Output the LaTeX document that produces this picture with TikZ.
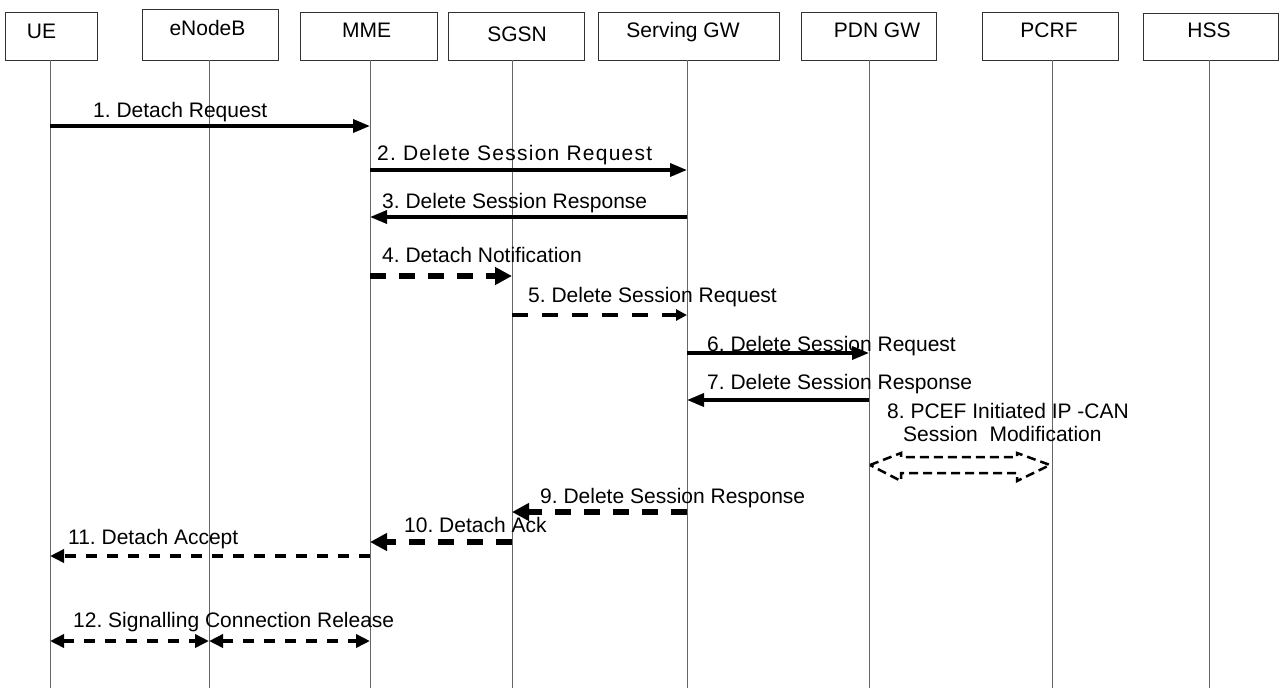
\documentclass[tikz,border=0pt]{standalone}
\usepackage{fontspec}
\setmainfont{Liberation Sans}
\usetikzlibrary{arrows.meta}
\begin{document}
\frenchspacing
\begin{tikzpicture}[x=1pt,y=-1pt,
  box/.style={draw=black!80,line width=1pt,minimum height=48pt,inner sep=0pt},
  lbl/.style={font=\fontsize{21}{23}\selectfont,inner sep=0pt},
  life/.style={draw=black!60,line width=1pt},
  msg/.style={line width=3.5pt,-{Triangle[length=17pt,width=13pt]}},
  dthick/.style={line width=5.5pt,dash pattern=on 16pt off 13pt,-{Triangle[length=17pt,width=17pt]}},
  dmid/.style={line width=3.2pt,dash pattern=on 16pt off 14pt,-{Triangle[length=11pt,width=11pt]}},
  dthin/.style={line width=3.5pt,dash pattern=on 11pt off 10pt,-{Triangle[length=14pt,width=13pt]}},
  dthinboth/.style={line width=3.5pt,dash pattern=on 11pt off 10pt,{Triangle[length=14pt,width=13pt]}-{Triangle[length=14pt,width=13pt]}},
  blockarrow/.style={line width=2.5pt,dash pattern=on 9pt off 5pt,line join=miter}]
\useasboundingbox[fill=white] (0,0) rectangle (1281,688);

% entity boxes
\node[box,minimum width=92pt] (ue) at (51,36) {};
\node[box,minimum width=136pt,minimum height=51pt] (enb) at (210,34.5) {};
\node[box,minimum width=137pt] (mme) at (368.5,36) {};
\node[box,minimum width=136pt] (sgsn) at (516,36) {};
\node[box,minimum width=181pt] (sgw) at (688.5,36) {};
\node[box,minimum width=135pt] (pgw) at (868.5,36) {};
\node[box,minimum width=136pt] (pcrf) at (1050,36) {};
\node[box,minimum width=135pt,minimum height=47pt] (hss) at (1210.5,36.5) {};

\node[lbl,anchor=base] (ue-t) at (41.5,38) {UE};
\node[lbl,anchor=base] (enb-t) at (207.5,35) {eNodeB};
\node[lbl,anchor=base] (mme-t) at (366.7,37) {MME};
\node[lbl,anchor=base] (sgsn-t) at (517,41) {SGSN};
\node[lbl,anchor=base] (sgw-t) at (683,37) {Serving GW};
\node[lbl,anchor=base] (pgw-t) at (877,37) {PDN GW};
\node[lbl,anchor=base] (pcrf-t) at (1049,37) {PCRF};
\node[lbl,anchor=base] (hss-t) at (1209,37) {HSS};

% lifelines
\coordinate (ue-l) at (50,60);    \coordinate (ue-b) at (50,688);
\coordinate (enb-l) at (209,60);  \coordinate (enb-b) at (209,688);
\coordinate (mme-l) at (370,60);  \coordinate (mme-b) at (370,688);
\coordinate (sgsn-l) at (512,60); \coordinate (sgsn-b) at (512,688);
\coordinate (sgw-l) at (687,60);  \coordinate (sgw-b) at (687,688);
\coordinate (pgw-l) at (869,60);  \coordinate (pgw-b) at (869,688);
\coordinate (pcrf-l) at (1052,60);\coordinate (pcrf-b) at (1052,688);
\coordinate (hss-l) at (1209,60); \coordinate (hss-b) at (1209,688);
\foreach \n in {ue,enb,mme,sgsn,sgw,pgw,pcrf,hss}
  \draw[life] (\n-l) -- (\n-b);

% messages
\draw[msg] (ue-l |- 0,126) -- (mme-l |- 0,126);
\node[lbl,anchor=base west] (m1) at (93,117) {1. Detach Request};

\draw[msg] (mme-l |- 0,170) -- (sgw-l |- 0,170);
\node[lbl,anchor=base west] (m2) at (377,160) {\addfontfeature{LetterSpace=6}2. Delete Session Request};

\draw[msg] (sgw-l |- 0,217) -- (mme-l |- 0,217);
\node[lbl,anchor=base west] (m3) at (382,208) {3. Delete Session Response};

\draw[dthick] (mme-l |- 0,276) -- (sgsn-l |- 0,276);
\node[lbl,anchor=base west] (m4) at (382,262) {4. Detach Notification};

\draw[dmid] (sgsn-l |- 0,315) -- (sgw-l |- 0,315);
\node[lbl,anchor=base west] (m5) at (528,302) {5. Delete Session Request};

\draw[msg] (sgw-l |- 0,353) -- (pgw-l |- 0,353);
\node[lbl,anchor=base west] (m6) at (707,351) {6. Delete Session Request};

\draw[msg] (pgw-l |- 0,400) -- (sgw-l |- 0,400);
\node[lbl,anchor=base west] (m7) at (707,389) {7. Delete Session Response};

\node[lbl,anchor=base west] (m8a) at (887,418) {8. PCEF Initiated IP -CAN};
\node[lbl,anchor=base west] (m8b) at (903,441) {Session\ \ Modification};
\draw[blockarrow] (870,465) -- (901,453) -- (901,457) -- (1017,457) -- (1017,453)
  -- (1050,465) -- (1017,481) -- (1017,473) -- (901,473) -- (901,481) -- cycle;

\draw[dthick] (sgw-l |- 0,512) -- (sgsn-l |- 0,512);
\node[lbl,anchor=base west] (m9) at (540,503) {9. Delete Session Response};

\draw[dthick] (sgsn-l |- 0,542) -- (mme-l |- 0,542);
\node[lbl,anchor=base west] (m10) at (404,532) {10. Detach Ack};

\draw[dthin] (mme-l |- 0,556) -- (ue-l |- 0,556);
\node[lbl,anchor=base west] (m11) at (68,544) {11. Detach Accept};

\draw[dthinboth] (ue-l |- 0,641) -- (enb-l |- 0,641);
\draw[dthinboth] (enb-l |- 0,641) -- (mme-l |- 0,641);
\node[lbl,anchor=base west] (m12) at (73,627) {12. Signalling Connection Release};
\end{tikzpicture}
\end{document}
